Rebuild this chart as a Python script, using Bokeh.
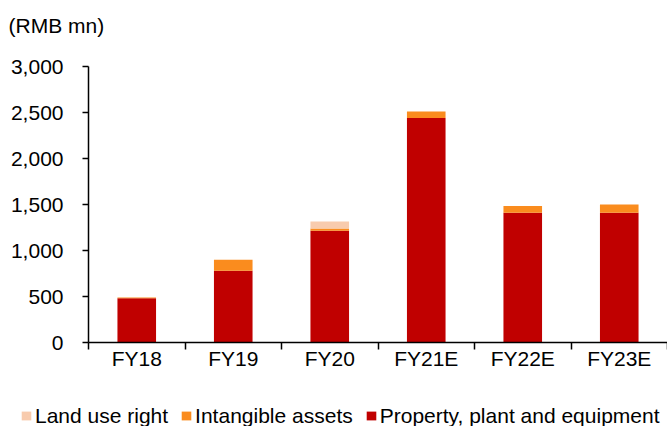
from bokeh.plotting import figure
from bokeh.layouts import column
from bokeh.models import (ColumnDataSource, Range1d, FixedTicker, NumeralTickFormatter,
                          Legend, LegendItem, Title)
from bokeh.embed import file_html
from bokeh.resources import INLINE

categories = ["FY18", "FY19", "FY20", "FY21E", "FY22E", "FY23E"]
ppe = [480, 780, 1215, 2440, 1410, 1410]
intangible = [10, 120, 25, 70, 75, 90]
land_use = [0, 0, 75, 0, 0, 0]
y_ticks = [0, 500, 1000, 1500, 2000, 2500, 3000]
series_names = ["Land use right", "Intangible assets", "Property, plant and equipment"]
colors = {"Land use right": "#F8CBAD", "Intangible assets": "#FA8C1E",
          "Property, plant and equipment": "#C00000"}

FONT = "Liberation Sans"
FS = "21px"

centers = [i + 0.5 for i in range(len(categories))]
bounds = list(range(len(categories) + 1))

source = ColumnDataSource(dict(x=centers, ppe=ppe, intangible=intangible, land=land_use))
stack_cols = ["ppe", "intangible", "land"]
stack_colors = [colors[series_names[2]], colors[series_names[1]], colors[series_names[0]]]

p = figure(width=667, height=400, output_backend="svg", toolbar_location=None,
           x_range=Range1d(0, len(categories)), y_range=Range1d(0, 3000),
           min_border_left=88, min_border_right=0, min_border_top=66, min_border_bottom=58)
p.frame_align = False
p.outline_line_color = None
p.xgrid.visible = False
p.ygrid.visible = False
p.background_fill_color = "white"
p.border_fill_color = "white"

r = p.vbar_stack(stack_cols, x="x", width=0.4, source=source,
                 color=stack_colors, line_color=None)

# x axis
xa = p.xaxis[0]
xa.ticker = FixedTicker(ticks=centers, minor_ticks=bounds)
xa.major_label_overrides = {c: cat for c, cat in zip(centers, categories)}
xa.major_tick_out = 0
xa.major_tick_in = 0
xa.minor_tick_out = 7
xa.minor_tick_in = 0
xa.minor_tick_line_color = "black"
xa.minor_tick_line_width = 1.5
xa.axis_line_color = "black"
xa.axis_line_width = 1.5
xa.major_label_text_font = FONT
xa.major_label_text_font_size = FS
xa.major_label_text_color = "black"
xa.major_label_standoff = -3

# y axis
ya = p.yaxis[0]
ya.ticker = FixedTicker(ticks=y_ticks, minor_ticks=[])
ya.formatter = NumeralTickFormatter(format="0,0")
ya.major_tick_out = 6
ya.major_tick_in = 0
ya.major_tick_line_color = "black"
ya.major_tick_line_width = 1.5
ya.axis_line_color = "black"
ya.axis_line_width = 1.5
ya.major_label_text_font = FONT
ya.major_label_text_font_size = FS
ya.major_label_text_color = "black"
ya.major_label_standoff = 19

# spacer between frame and title, then the title
spacer = Title(text=" ", text_font_size="1px", standoff=27)
p.add_layout(spacer, "above")
t = Title(text="(RMB mn)", align="left", offset=-80, standoff=0,
          text_font=FONT, text_font_size=FS, text_font_style="normal",
          text_color="black")
p.add_layout(t, "above")

# legend strip below the chart (reverse of stack order); its bars lie outside its view
pl = figure(width=667, height=26, output_backend="svg", toolbar_location=None,
            x_range=Range1d(0, len(categories)), y_range=Range1d(10000, 10001),
            min_border=0, min_border_left=0, min_border_right=0,
            min_border_top=0, min_border_bottom=0,
            x_axis_location=None, y_axis_location=None)
pl.frame_align = False
pl.outline_line_color = None
pl.xgrid.visible = False
pl.ygrid.visible = False
pl.border_fill_color = "white"
lr = pl.vbar_stack(stack_cols, x="x", width=0.4, source=source,
                   color=stack_colors, line_color=None)
items = [LegendItem(label=series_names[0], renderers=[lr[2]]),
         LegendItem(label=series_names[1], renderers=[lr[1]]),
         LegendItem(label=series_names[2], renderers=[lr[0]])]
legend = Legend(items=items, orientation="horizontal", location=(20, -1.5),
                label_text_font=FONT, label_text_font_size=FS, label_text_color="black",
                glyph_width=12, glyph_height=11, label_standoff=3, spacing=12,
                padding=0, margin=0, border_line_color=None, background_fill_alpha=0,
                label_height=22)
pl.add_layout(legend)

layout = column(p, pl, spacing=0)
open("out.html", "w").write(file_html(layout, INLINE))
